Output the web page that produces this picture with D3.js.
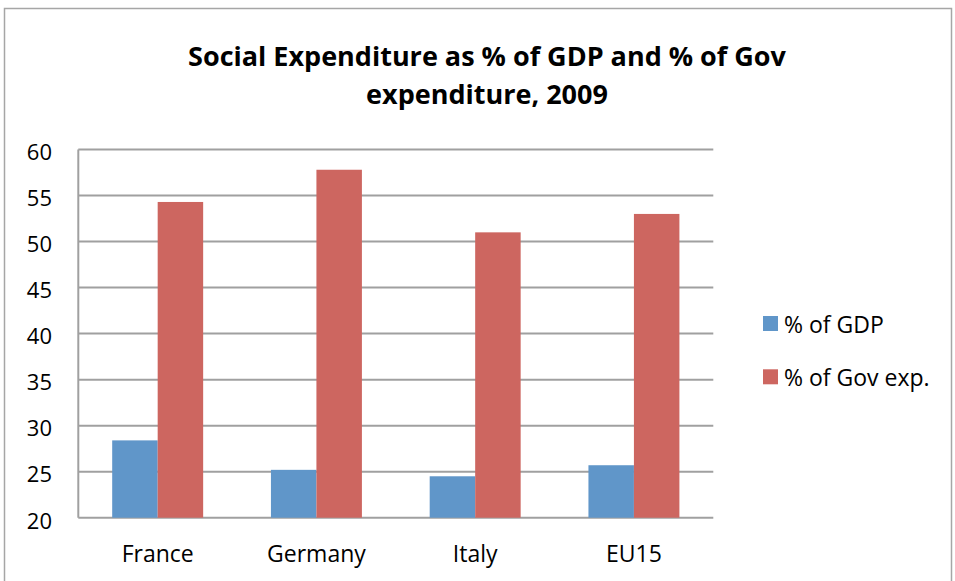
<!DOCTYPE html>
<html><head><meta charset="utf-8">
<script src="https://cdn.jsdelivr.net/npm/d3@7"></script>
<style>body{margin:0;background:#fff}svg{display:block}text{font-family:"Open Sans",Lato,sans-serif}</style>
</head><body><svg id="c" width="955" height="581"></svg>
<script>
const categories = ["France","Germany","Italy","EU15"];
const seriesNames = ["% of GDP","% of Gov exp."];
const gdpValues = [28.4,25.2,24.5,25.7];
const govValues = [54.3,57.8,51.0,53.0];
const yTicks = [20,25,30,35,40,45,50,55,60];
const colors = ["#6096C9","#CD6660"];
const titleLines = ["Social Expenditure as % of GDP and % of Gov","expenditure, 2009"];

const svg = d3.select("#c");
svg.append("rect").attr("x",4.5).attr("y",8.5).attr("width",947).attr("height",600)
  .attr("fill","#fff").attr("stroke","#A6A6A6").attr("stroke-width",1.5);

const L=78.3,R=713.3,T=149.5,B=517.7;
const x = d3.scaleBand().domain(categories).range([L,R]).paddingInner(0.427).paddingOuter(0.2135);
const x1 = d3.scaleBand().domain(seriesNames).range([0,x.bandwidth()]);
const y = d3.scaleLinear().domain([20,60]).range([B,T]);

const g = svg.append("g");
g.selectAll("line.grid").data(yTicks).join("line").attr("class","grid")
  .attr("x1",L).attr("x2",R).attr("y1",d=>y(d)).attr("y2",d=>y(d))
  .attr("stroke","#A0A0A0").attr("stroke-width",2);
g.append("line").attr("x1",L).attr("x2",L).attr("y1",T).attr("y2",B).attr("stroke","#A0A0A0").attr("stroke-width",2);

const data = categories.map((c,i)=>({c, vals:[gdpValues[i],govValues[i]]}));
const groups = g.selectAll("g.cat").data(data).join("g").attr("transform",d=>`translate(${x(d.c)},0)`);
groups.selectAll("rect").data(d=>d.vals.map((v,j)=>({v,s:seriesNames[j],j}))).join("rect")
  .attr("x",d=>x1(d.s)).attr("width",x1.bandwidth())
  .attr("y",d=>y(d.v)).attr("height",d=>y(20)-y(d.v)).attr("fill",d=>colors[d.j]);

g.selectAll("text.yt").data(yTicks).join("text").attr("class","yt")
  .attr("x",52).attr("y",d=>y(d)+10.8).attr("text-anchor","end")
  .attr("font-size",22).attr("fill","#000").text(d=>d);
g.selectAll("text.xt").data(categories).join("text").attr("class","xt")
  .attr("x",d=>x(d)+x.bandwidth()/2).attr("y",561.7).attr("text-anchor","middle")
  .attr("font-size",23).attr("fill","#000").text(d=>d);

svg.selectAll("text.title").data(titleLines).join("text").attr("class","title")
  .attr("x",487).attr("y",(d,i)=>65.5+i*38).attr("text-anchor","middle")
  .attr("font-size",27).attr("font-weight","bold").attr("fill","#000").text(d=>d);

const leg = svg.append("g");
seriesNames.forEach((s,i)=>{
  leg.append("rect").attr("x",763).attr("y",316+i*53.3).attr("width",15).attr("height",15).attr("fill",colors[i]);
  leg.append("text").attr("x",784).attr("y",333.3+i*52.7).attr("font-size",23).attr("fill","#000").text(s);
});
</script></body></html>
